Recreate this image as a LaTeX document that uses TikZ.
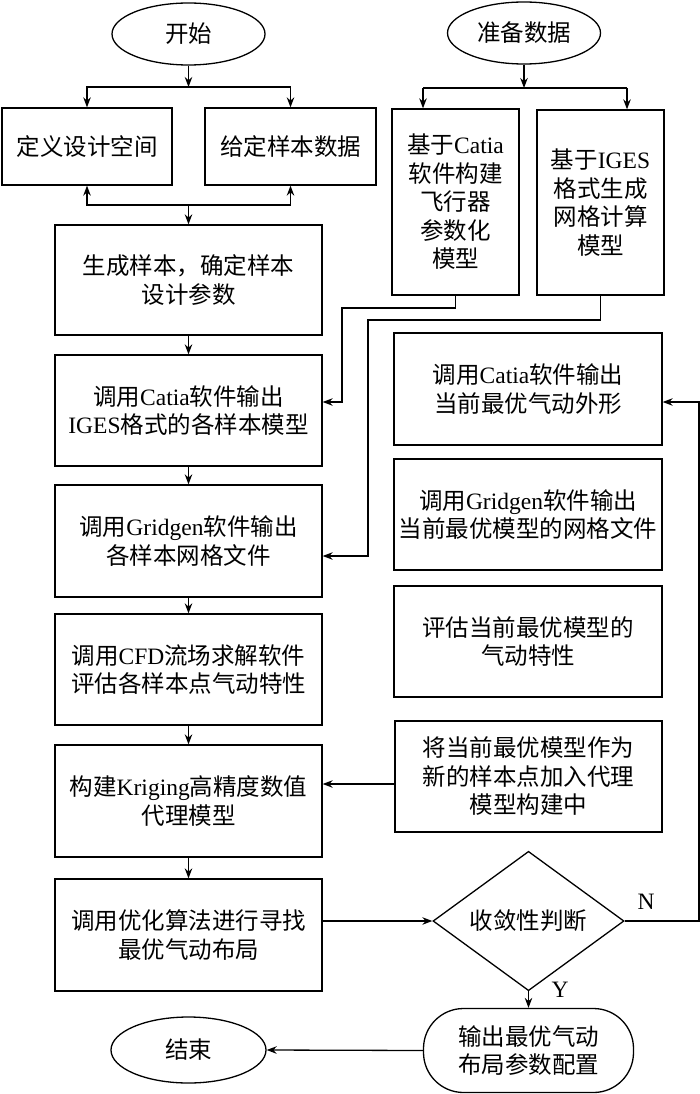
\documentclass[tikz,border=0pt]{standalone}
\usepackage{fontspec}
\setmainfont{Liberation Serif}
\newfontfamily\cj{Noto Sans CJK SC}
\usetikzlibrary{shapes.geometric,arrows.meta}
\newcommand\zh[1]{{\cj #1}}
\begin{document}
\begin{tikzpicture}[x=1pt,y=-1pt,
  every node/.style={font=\fontsize{23.5}{28.5}\selectfont, align=center, inner sep=0pt, line width=1.3pt},
  bx/.style 2 args={draw, rectangle, minimum width=#1pt, minimum height=#2pt},
  term/.style={draw, ellipse},
  conn/.style={line width=1.3pt, -{Stealth[length=10pt,width=7.5pt]}},
  plain/.style={line width=1.3pt}]
\useasboundingbox (0,0) rectangle (700,1094);

% terminals
\node[term, minimum width=153pt, minimum height=62pt] (start) at (188.5,34) {\zh{开始}};
\node[term, minimum width=153pt, minimum height=62pt] (prep) at (524,33) {\zh{准备数据}};

% left column
\node[bx={170}{77}] (def) at (87,146.5) {\zh{定义设计空间}};
\node[bx={171}{77}] (given) at (290.5,146.5) {\zh{给定样本数据}};
\node[bx={267}{110}] (gen) at (188.5,280) {\zh{生成样本，确定样本}\\\zh{设计参数}};
\node[bx={267}{111}] (catia) at (188.5,410.5) {\zh{调用}Catia\zh{软件输出}\\IGES\zh{格式的各样本模型}};
\node[bx={267}{112}] (grid) at (188.5,541) {\zh{调用}Gridgen\zh{软件输出}\\\zh{各样本网格文件}};
\node[bx={267}{111}] (cfd) at (188.5,669.5) {\zh{调用}CFD\zh{流场求解软件}\\\zh{评估各样本点气动特性}};
\node[bx={267}{112}] (krig) at (188.5,801) {\zh{构建}Kriging\zh{高精度数值}\\\zh{代理模型}};
\node[bx={267}{112}] (opt) at (188.5,935) {\zh{调用优化算法进行寻找}\\\zh{最优气动布局}};

% right column
\node[bx={127}{186}] (bcatia) at (455.5,202) {\zh{基于}Catia\\\zh{软件构建}\\\zh{飞行器}\\\zh{参数化}\\\zh{模型}};
\node[bx={127}{185}] (biges) at (600.5,202.5) {\zh{基于}IGES\\\zh{格式生成}\\\zh{网格计算}\\\zh{模型}};
\node[bx={268}{112}] (rcatia) at (528,389) {\zh{调用}Catia\zh{软件输出}\\\zh{当前最优气动外形}};
\node[bx={268}{111}] (rgrid) at (528,514.5) {\zh{调用}Gridgen\zh{软件输出}\\\zh{当前最优模型的网格文件}};
\node[bx={268}{111}] (reval) at (528,641.5) {\zh{评估当前最优模型的}\\\zh{气动特性}};
\node[bx={267}{111}] (radd) at (528.5,776.5) {\zh{将当前最优模型作为}\\\zh{新的样本点加入代理}\\\zh{模型构建中}};
\node[draw, diamond, minimum width=191pt, minimum height=114pt] (conv) at (528.5,921) {\zh{收敛性判断}};
\node[draw, rectangle, rounded corners=40pt, minimum width=210pt, minimum height=84pt] (out) at (528.5,1050.5) {\zh{输出最优气动}\\\zh{布局参数配置}};
\node[term, minimum width=155pt, minimum height=66pt] (endn) at (188.5,1050) {\zh{结束}};

% helper coordinates
\coordinate (j1) at (188.5,87);
\coordinate (j2) at (188.5,205);
\coordinate (j3) at (524,88);
\coordinate (j3l) at (423,88);
\coordinate (j3r) at (627,88);
\coordinate (k1) at (342,308);
\coordinate (k2) at (368,320);
\coordinate (y1) at (0,402);
\coordinate (y2) at (0,784);
\coordinate (y3) at (0,556);
\coordinate (n1) at (699,921);

% top-left split
\draw[conn] (start) -- (j1);
\draw[conn] (j1) -| (def);
\draw[conn] (j1) -| (given);
\draw[conn] (j2) -| (def);
\draw[conn] (j2) -| (given);
\draw[conn] (j2) -- (gen);

% main chain
\draw[conn] (gen) -- (catia);
\draw[conn] (catia) -- (grid);
\draw[conn] (grid) -- (cfd);
\draw[conn] (cfd) -- (krig);
\draw[conn] (krig) -- (opt);

% prepare data split
\draw[conn] (prep) -- (j3);
\draw[plain] (j3l) -- (j3r);
\draw[conn] (j3l) -- (j3l |- bcatia.north);
\draw[conn] (j3r) -- (j3r |- biges.north);

% data into main chain
\draw[conn] (bcatia.south) |- (k1) |- (catia.east |- y1);
\draw[conn] (biges.south) |- (k2) |- (grid.east |- y3);

% loop
\draw[conn] (radd.west |- y2) -- (krig.east |- y2);
\draw[conn] (opt.east |- conv) -- (conv.west);
\draw[conn] (conv.east) -- (n1) |- (rcatia.east |- y1);
\node (nl) at (646,902) {N};
\draw[conn] (conv.south) -- (out.north);
\node (yl) at (560,990) {Y};
\draw[conn] (out.west) -- (endn.east);
\end{tikzpicture}
\end{document}
